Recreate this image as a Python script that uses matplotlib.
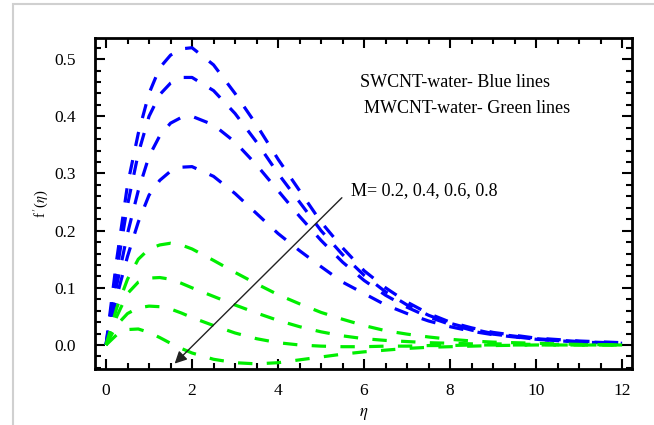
import matplotlib
matplotlib.use("Agg")
import matplotlib.pyplot as plt
from matplotlib.patches import Rectangle

plt.rcParams['font.family'] = ['Liberation Serif', 'DejaVu Serif']
plt.rcParams['mathtext.fontset'] = 'stix'

eta = [0, 0.25, 0.5, 0.75, 1, 1.25, 1.5, 1.75, 2, 2.5, 3, 3.5, 4, 4.5,
       5, 5.5, 6, 6.5, 7, 7.5, 8, 8.5, 9, 10, 11, 12]

# SWCNT-water, M = 0.2, 0.4, 0.6, 0.8
sw_02 = [0, 0.15, 0.28, 0.37, 0.44, 0.485, 0.507, 0.518, 0.52, 0.49, 0.44, 0.385,
         0.325, 0.27, 0.215, 0.17, 0.13, 0.1, 0.075, 0.055, 0.04, 0.03, 0.022, 0.012, 0.007, 0.004]
sw_04 = [0, 0.13, 0.245, 0.335, 0.4, 0.438, 0.458, 0.468, 0.468, 0.445, 0.405, 0.355,
         0.3, 0.25, 0.2, 0.158, 0.122, 0.093, 0.07, 0.052, 0.038, 0.028, 0.02, 0.011, 0.006, 0.003]
sw_06 = [0, 0.105, 0.195, 0.27, 0.33, 0.366, 0.388, 0.398, 0.4, 0.385, 0.355, 0.315,
         0.27, 0.225, 0.183, 0.145, 0.113, 0.087, 0.066, 0.049, 0.036, 0.026, 0.019, 0.01, 0.005, 0.003]
sw_08 = [0, 0.085, 0.155, 0.215, 0.262, 0.288, 0.304, 0.311, 0.312, 0.295, 0.265, 0.23,
         0.195, 0.165, 0.137, 0.11, 0.09, 0.07, 0.055, 0.042, 0.032, 0.024, 0.018, 0.01, 0.005, 0.003]

# MWCNT-water, M = 0.2, 0.4, 0.6, 0.8
mw_02 = [0, 0.065, 0.115, 0.15, 0.168, 0.175, 0.178, 0.175, 0.168, 0.148, 0.127, 0.107,
         0.088, 0.072, 0.057, 0.045, 0.034, 0.025, 0.019, 0.014, 0.01, 0.007, 0.005, 0.003, 0.001, 0]
mw_04 = [0, 0.05, 0.09, 0.11, 0.117, 0.118, 0.115, 0.108, 0.1, 0.085, 0.07, 0.056,
         0.043, 0.032, 0.023, 0.016, 0.011, 0.008, 0.006, 0.004, 0.003, 0.002, 0.002, 0.001, 0, 0]
mw_06 = [0, 0.035, 0.055, 0.065, 0.068, 0.067, 0.063, 0.056, 0.048, 0.034, 0.021, 0.011,
         0.004, 0.0, -0.002, -0.003, -0.003, -0.002, -0.002, -0.001, -0.001, 0, 0, 0, 0, 0]
mw_08 = [0, 0.018, 0.027, 0.028, 0.022, 0.013, 0.003, -0.006, -0.014, -0.025, -0.031, -0.033,
         -0.031, -0.026, -0.021, -0.016, -0.012, -0.009, -0.006, -0.004, -0.003, -0.002, -0.001, 0, 0, 0]

blue_sets = [sw_02, sw_04, sw_06, sw_08]
green_sets = [mw_02, mw_04, mw_06, mw_08]

fig = plt.figure(figsize=(6.54, 4.25), dpi=100)
fig.patches.append(Rectangle((13 / 654, -0.1), 2.0, 421 / 425 + 0.1,
                             transform=fig.transFigure, fill=False,
                             edgecolor='#d0d0d0', linewidth=1.5))
ax = fig.add_axes([95 / 654, 56 / 425, 537 / 654, 331 / 425])

for ys in blue_sets:
    ax.plot(eta, ys, color='#0000ff', lw=2.3, dashes=(4.5, 4.5))
for ys in green_sets:
    ax.plot(eta, ys, color='#00ee00', lw=2.3, dashes=(4.5, 4.5))

ax.set_xlim(-0.256, 12.23)
ax.set_ylim(-0.042, 0.537)
ax.set_xticks([0, 2, 4, 6, 8, 10, 12])
ax.set_xticks([x * 0.5 for x in range(25)], minor=True)
ax.set_yticks([0.0, 0.1, 0.2, 0.3, 0.4, 0.5])
ax.set_yticks([y * 0.02 for y in range(-2, 27)], minor=True)
ax.set_yticklabels(['0.0', '0.1', '0.2', '0.3', '0.4', '0.5'])
ax.tick_params(which='both', direction='in', top=True, right=True, width=1.5,
               labelsize=12.5)
ax.tick_params(which='major', length=7, pad=10)
ax.tick_params(which='minor', length=4)
ax.tick_params(axis='y', which='major', pad=14)
for s in ax.spines.values():
    s.set_linewidth(2)

ax.set_xlabel(r'$\eta$', fontsize=12, labelpad=5)
ax.set_ylabel(r"f$\,'$($\eta$)", fontsize=10.5, labelpad=3)

ax.text(5.9, 0.46, 'SWCNT-water- Blue lines', fontsize=13, va='center')
ax.text(6.0, 0.413, 'MWCNT-water- Green lines', fontsize=13, va='center')
ax.text(5.7, 0.27, 'M= 0.2, 0.4, 0.6, 0.8', fontsize=13, va='center')

ax.annotate('', xy=(1.55, -0.036), xytext=(5.53, 0.261),
            arrowprops=dict(arrowstyle='-|>', color='#222222', lw=1,
                            mutation_scale=18))

fig.savefig('out.png', dpi=100)
